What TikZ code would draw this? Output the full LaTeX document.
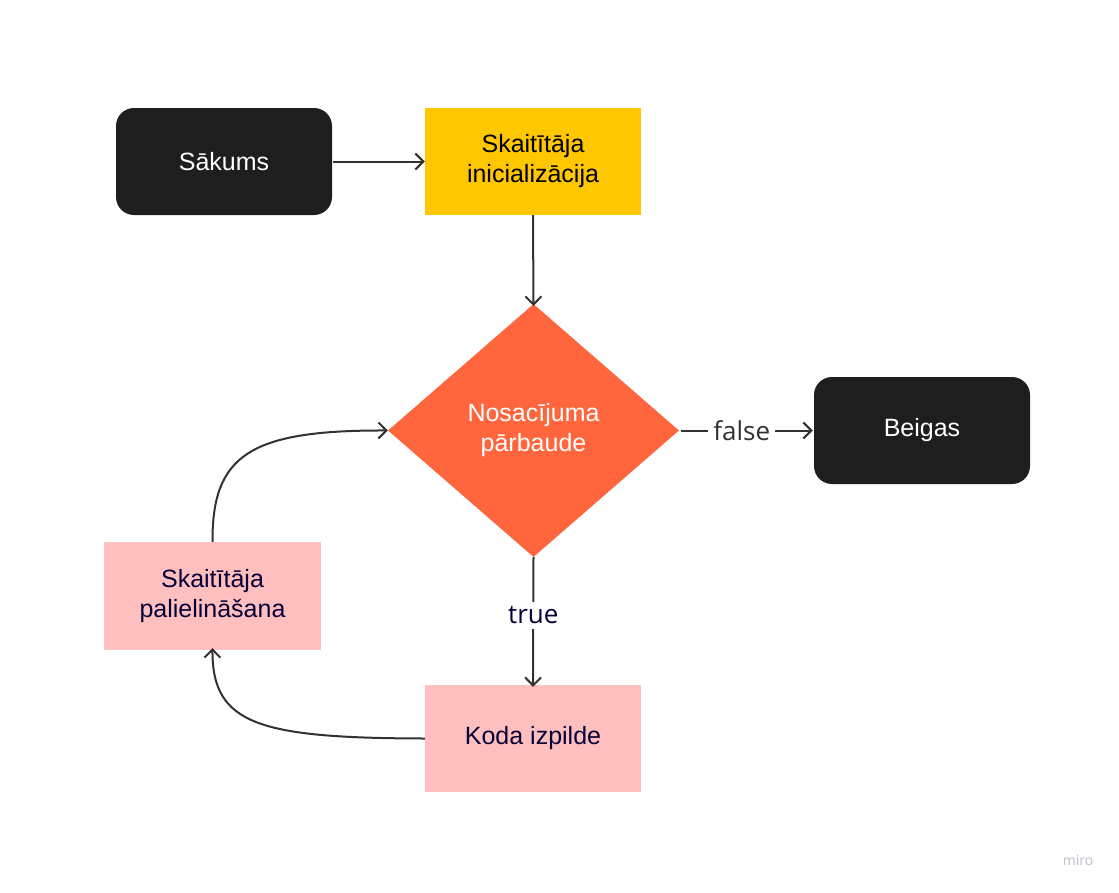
\documentclass[tikz,border=0pt]{standalone}
\usepackage{fontspec}
\setmainfont{Liberation Sans}
\newfontfamily\labelfont{Open Sans}
\usetikzlibrary{shapes.geometric,arrows.meta}
\definecolor{boxblack}{RGB}{30,30,30}
\definecolor{boxyellow}{RGB}{255,199,0}
\definecolor{boxorange}{RGB}{255,102,61}
\definecolor{boxpink}{RGB}{255,191,191}
\definecolor{navy}{RGB}{5,0,56}
\definecolor{linegray}{RGB}{50,50,50}
\definecolor{wmgray}{RGB}{190,190,200}
\tikzset{
  box/.style={rectangle, minimum width=216pt, minimum height=107pt, inner sep=0pt,
    align=center, font=\fontsize{25}{30}\selectfont},
  termbox/.style={box, fill=boxblack, rounded corners=18pt, text=white},
  yellowbox/.style={box, fill=boxyellow, text=black},
  pinkbox/.style={box, fill=boxpink, text=navy},
  decision/.style={diamond, fill=boxorange, text=white, minimum width=291pt,
    minimum height=253pt, inner sep=0pt, align=center, font=\fontsize{25}{30}\selectfont},
  conn/.style={draw=linegray, line width=2pt,
    -{Straight Barb[length=8pt,width=16pt,line width=2pt]}},
  lbl/.style={fill=white, inner sep=5pt, font=\labelfont\fontsize{26}{30}\selectfont}
}
\begin{document}
\begin{tikzpicture}[x=1pt,y=-1pt]
\useasboundingbox[fill=white] (0,0) rectangle (1119,892);
\node[termbox] (start) at (224,161.5) {Sākums};
\node[yellowbox] (init) at (533,161.5) {Skaitītāja\\inicializācija};
\node[decision] (cond) at (533.5,430.5) {Nosacījuma\\pārbaude};
\node[termbox] (end) at (922,430.5) {Beigas};
\node[pinkbox, minimum width=217pt, minimum height=108pt] (inc) at (212.5,596) {Skaitītāja\\palielināšana};
\node[pinkbox] (body) at (533,738.5) {Koda izpilde};
\node[text=wmgray, font=\labelfont\fontsize{14}{16}\selectfont] (wm) at (1078,860) {miro};

\draw[conn] ([xshift=1pt]start.east) -- (init.west);
\draw[conn] (init.south) -- ([yshift=-2pt]cond.north);
\draw[conn] ([xshift=2pt]cond.east) -- node[lbl, text=linegray, pos=0.46] (lf) {false} ([xshift=-1pt]end.west);
\draw[conn] (cond.south) -- node[lbl, text=navy, pos=0.45] (lt) {true} ([yshift=-2pt]body.north);
\draw[conn] (body.west) .. controls (260,738) and (212,725) .. ([yshift=2pt]inc.south);
\draw[conn] (inc.north) .. controls (212,455) and (250,430) .. (cond.west);
\end{tikzpicture}
\end{document}
